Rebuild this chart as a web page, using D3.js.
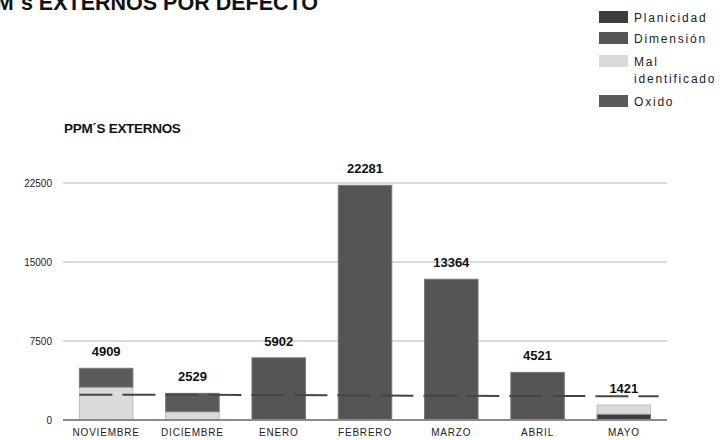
<!DOCTYPE html>
<html>
<head>
<meta charset="utf-8">
<script src="https://cdn.jsdelivr.net/npm/d3@7"></script>
<style>
  body { margin: 0; background: #fff; }
  svg { display: block; }
</style>
</head>
<body>
<div id="viz-container"></div>
<script>
// data
var meses = ["NOVIEMBRE", "DICIEMBRE", "ENERO", "FEBRERO", "MARZO", "ABRIL", "MAYO"];
var planicidad = [0, 0, 0, 0, 0, 0, 570];
var dimension = [0, 0, 5902, 22281, 13364, 4521, 0];
var malIdentificado = [3130, 790, 0, 0, 0, 0, 851];
var oxido = [1779, 1739, 0, 0, 0, 0, 0];
var meta = [2400, 2390, 2380, 2330, 2300, 2280, 2260];
var yTicks = [0, 7500, 15000, 22500];

var series = [
  { name: "Planicidad", values: planicidad, color: "#3c3c3c" },
  { name: "Dimensión", values: dimension, color: "#555555" },
  { name: "Mal identificado", values: malIdentificado, color: "#dadada" },
  { name: "Oxido", values: oxido, color: "#5a5a5a" }
];

var width = 727, height = 440;

var node = d3.select('#viz-container')
  .append('svg')
  .attr("width", width)
  .attr("height", height)

// main title, cut off at the left edge like the original
node.append('text')
  .text("PPM´s EXTERNOS POR DEFECTO")
  .attr("x", 318)
  .attr("y", 10)
  .attr("text-anchor", "end")
  .style("font-family", "Liberation Sans, Arial, sans-serif")
  .style("font-weight", "bold")
  .style("font-size", "21.5px")
  .style("fill", "#111")

// chart subtitle
node.append('text')
  .text("PPM´S EXTERNOS")
  .attr("x", 64)
  .attr("y", 133)
  .style("font-family", "Liberation Sans, Arial, sans-serif")
  .style("font-weight", "bold")
  .style("font-size", "13.5px")
  .style("letter-spacing", "-0.3px")
  .style("fill", "#111")

var x = d3.scaleBand()
  .domain(meses)
  .range([63, 667])
  .paddingInner(0.38)
  .paddingOuter(0.19)

var y = d3.scaleLinear()
  .domain([0, 22500])
  .range([420, 183])

// gridlines
node.append('g')
  .selectAll('line')
  .data(yTicks.filter(function (d) { return d > 0; }))
  .enter()
  .append('line')
  .attr("x1", 63)
  .attr("x2", 667)
  .attr("y1", function (d) { return y(d); })
  .attr("y2", function (d) { return y(d); })
  .style('stroke', '#cfcfcf')
  .style('stroke-width', 1.5)

// y labels
node.append('g')
  .selectAll('text')
  .data(yTicks)
  .enter()
  .append('text')
  .text(function (d) { return d; })
  .attr("x", 52)
  .attr("y", function (d) { return y(d) + 4; })
  .attr("text-anchor", "end")
  .style("font-family", "Liberation Sans, Arial, sans-serif")
  .style("font-size", "10px")
  .style("fill", "#222")

// stacked bars
var rows = meses.map(function (m, i) {
  var r = { mes: m };
  series.forEach(function (s) { r[s.name] = s.values[i]; });
  return r;
});

var stack = d3.stack().keys(series.map(function (s) { return s.name; }));
var stacked = stack(rows);

node.append('g')
  .selectAll('g')
  .data(stacked)
  .enter()
  .append('g')
  .style('fill', function (d, i) { return series[i].color; })
  .style('stroke', function (d, i) { return i == 2 ? "#bdbdbd" : "#777"; })
  .style('stroke-width', 1)
  .selectAll('rect')
  .data(function (d) { return d.filter(function (p) { return p[1] - p[0] > 0; }); })
  .enter()
  .append('rect')
  .attr("x", function (d) { return x(d.data.mes); })
  .attr("width", x.bandwidth())
  .attr("y", function (d) { return y(d[1]); })
  .attr("height", function (d) { return y(d[0]) - y(d[1]); })

// base axis line
node.append('line')
  .attr("x1", 63)
  .attr("x2", 667)
  .attr("y1", y(0))
  .attr("y2", y(0))
  .style('stroke', '#8a8a8a')
  .style('stroke-width', 2)

// dashed target line
var metaPts = meses.map(function (m, i) { return [x(m) + x.bandwidth() / 2, y(meta[i])]; });
metaPts.unshift([x(meses[0]), y(meta[0])]);
metaPts.push([x(meses[meses.length - 1]) + x.bandwidth() + 8, y(meta[meta.length - 1])]);

node.append('path')
  .attr("d", d3.line()(metaPts))
  .style('fill', 'none')
  .style('stroke', '#454545')
  .style('stroke-width', 2)
  .style('stroke-dasharray', '33,10')

// totals above bars
var totals = meses.map(function (m, i) {
  return d3.sum(series, function (s) { return s.values[i]; });
});

node.append('g')
  .selectAll('text')
  .data(totals)
  .enter()
  .append('text')
  .text(function (d) { return d; })
  .attr("x", function (d, i) { return x(meses[i]) + x.bandwidth() / 2; })
  .attr("y", function (d) { return y(d) - 12; })
  .attr("text-anchor", "middle")
  .style("font-family", "Liberation Sans, Arial, sans-serif")
  .style("font-weight", "bold")
  .style("font-size", "13px")
  .style("fill", "#111")

// x labels
node.append('g')
  .selectAll('text')
  .data(meses)
  .enter()
  .append('text')
  .text(function (d) { return d; })
  .attr("x", function (d) { return x(d) + x.bandwidth() / 2; })
  .attr("y", 436)
  .attr("text-anchor", "middle")
  .style("font-family", "Liberation Sans, Arial, sans-serif")
  .style("font-size", "10px")
  .style("letter-spacing", "0.8px")
  .style("fill", "#222")

// legend
var legendRows = [
  { color: series[0].color, lines: ["Planicidad"], y: 11 },
  { color: series[1].color, lines: ["Dimensión"], y: 32 },
  { color: series[2].color, lines: ["Mal", "identificado"], y: 55 },
  { color: series[3].color, lines: ["Oxido"], y: 95 }
];

var legend = node.append('g')

legend.selectAll('rect')
  .data(legendRows)
  .enter()
  .append('rect')
  .attr("x", 599)
  .attr("y", function (d) { return d.y; })
  .attr("width", 29)
  .attr("height", 12)
  .style('fill', function (d) { return d.color; })

legend.selectAll('text')
  .data(legendRows)
  .enter()
  .append('text')
  .attr("x", 634)
  .attr("y", function (d) { return d.y + 11; })
  .style("font-family", "Liberation Sans, Arial, sans-serif")
  .style("font-size", "12px")
  .style("letter-spacing", "1.8px")
  .style("fill", "#222")
  .selectAll('tspan')
  .data(function (d) { return d.lines; })
  .enter()
  .append('tspan')
  .attr("x", 634)
  .attr("dy", function (d, i) { return i == 0 ? 0 : 17; })
  .text(function (d) { return d; })
</script>
</body>
</html>
